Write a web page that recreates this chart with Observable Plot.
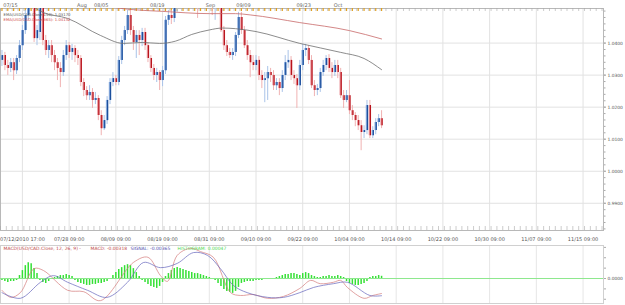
<!DOCTYPE html>
<html><head><meta charset="utf-8">
<script src="https://cdn.jsdelivr.net/npm/d3@7"></script>
<script src="https://cdn.jsdelivr.net/npm/@observablehq/plot@0.6"></script>
<style>
html,body{margin:0;padding:0;background:#fff;}
#wrap{position:relative;width:625px;height:305px;overflow:hidden;}
#main,#macd{position:absolute;left:0;}
#main{top:0}
#macd{top:243px}
svg{display:block}
</style></head><body>
<div id="wrap"><div id="main"></div><div id="macd"></div></div>
<script>
// ---- price candles (bar index 0..130) ----
const open = [1.0346,1.0361,1.0330,1.0321,1.0339,1.0314,1.0352,1.0392,1.0439,1.0486,1.0527,1.0558,1.0414,1.0433,1.0508,1.0408,1.0377,1.0392,1.0361,1.0339,
1.0321,1.0308,1.0361,1.0392,1.0371,1.0383,1.0361,1.0352,1.0277,1.0252,1.0236,1.0246,1.0221,1.0227,1.0174,1.0133,1.0158,1.0221,1.0277,1.0289,
1.0277,1.0346,1.0408,1.0439,1.0486,1.0439,1.0402,1.0424,1.0408,1.0433,1.0392,1.0352,1.0321,1.0299,1.0308,1.0283,1.0314,1.0471,1.0486,1.0477,
1.0508,1.0549,1.0580,1.0611,1.0596,1.0627,1.0602,1.0564,1.0539,1.0571,1.0596,1.0580,1.0549,1.0533,1.0549,1.0558,1.0439,1.0392,1.0371,1.0361,
1.0371,1.0424,1.0480,1.0439,1.0392,1.0361,1.0339,1.0330,1.0346,1.0299,1.0283,1.0289,1.0308,1.0299,1.0267,1.0277,1.0258,1.0299,1.0339,1.0346,
1.0299,1.0289,1.0267,1.0330,1.0377,1.0383,1.0346,1.0267,1.0252,1.0258,1.0308,1.0330,1.0352,1.0321,1.0308,1.0330,1.0308,1.0236,1.0221,1.0236,
1.0189,1.0174,1.0158,1.0142,1.0121,1.0127,1.0205,1.0111,1.0127,1.0152,1.0164];
const high = [1.0377,1.0371,1.0346,1.0352,1.0352,1.0361,1.0408,1.0455,1.0502,1.0549,1.0580,1.0571,1.0455,1.0521,1.0517,1.0424,1.0408,1.0408,1.0377,1.0352,
1.0339,1.0377,1.0408,1.0402,1.0396,1.0392,1.0377,1.0361,1.0289,1.0264,1.0267,1.0258,1.0246,1.0236,1.0189,1.0174,1.0233,1.0289,1.0308,1.0299,
1.0358,1.0421,1.0452,1.0502,1.0502,1.0452,1.0439,1.0439,1.0446,1.0446,1.0402,1.0361,1.0333,1.0321,1.0314,1.0327,1.0483,1.0502,1.0502,1.0527,
1.0571,1.0602,1.0633,1.0627,1.0652,1.0642,1.0621,1.0577,1.0589,1.0614,1.0608,1.0596,1.0564,1.0571,1.0580,1.0571,1.0452,1.0408,1.0383,1.0383,
1.0433,1.0496,1.0496,1.0452,1.0408,1.0377,1.0361,1.0361,1.0358,1.0314,1.0308,1.0327,1.0321,1.0314,1.0289,1.0289,1.0314,1.0361,1.0377,1.0358,
1.0314,1.0302,1.0346,1.0396,1.0396,1.0392,1.0361,1.0283,1.0271,1.0321,1.0346,1.0361,1.0364,1.0339,1.0346,1.0346,1.0321,1.0252,1.0252,1.0283,
1.0205,1.0183,1.0174,1.0158,1.0142,1.0221,1.0221,1.0139,1.0164,1.0177,1.0189];
const low = [1.0327,1.0314,1.0299,1.0308,1.0283,1.0302,1.0339,1.0377,1.0427,1.0471,1.0514,1.0402,1.0392,1.0408,1.0392,1.0361,1.0352,1.0339,1.0314,1.0283,
1.0261,1.0296,1.0346,1.0352,1.0346,1.0339,1.0330,1.0264,1.0233,1.0221,1.0221,1.0196,1.0208,1.0158,1.0111,1.0127,1.0146,1.0208,1.0264,1.0267,
1.0267,1.0333,1.0392,1.0427,1.0424,1.0377,1.0352,1.0361,1.0389,1.0377,1.0339,1.0308,1.0283,1.0277,1.0252,1.0264,1.0302,1.0455,1.0458,1.0464,
1.0496,1.0533,1.0564,1.0571,1.0577,1.0564,1.0549,1.0477,1.0521,1.0552,1.0558,1.0527,1.0486,1.0471,1.0521,1.0433,1.0377,1.0358,1.0352,1.0346,
1.0358,1.0414,1.0427,1.0383,1.0346,1.0292,1.0314,1.0314,1.0283,1.0258,1.0214,1.0221,1.0277,1.0252,1.0252,1.0236,1.0246,1.0283,1.0321,1.0283,
1.0271,1.0196,1.0252,1.0314,1.0358,1.0333,1.0258,1.0233,1.0236,1.0246,1.0296,1.0314,1.0308,1.0289,1.0296,1.0289,1.0227,1.0196,1.0214,1.0177,
1.0158,1.0139,1.0127,1.0064,1.0102,1.0114,1.0102,1.0102,1.0114,1.0139,1.0133];
const close = [1.0361,1.0330,1.0321,1.0339,1.0314,1.0352,1.0392,1.0439,1.0486,1.0527,1.0558,1.0414,1.0439,1.0508,1.0408,1.0377,1.0392,1.0361,1.0339,1.0321,
1.0308,1.0361,1.0392,1.0371,1.0383,1.0361,1.0352,1.0277,1.0252,1.0236,1.0246,1.0221,1.0227,1.0174,1.0133,1.0158,1.0221,1.0277,1.0289,1.0277,
1.0346,1.0408,1.0439,1.0486,1.0439,1.0402,1.0424,1.0408,1.0433,1.0392,1.0352,1.0321,1.0299,1.0308,1.0283,1.0314,1.0471,1.0486,1.0477,1.0508,
1.0549,1.0580,1.0611,1.0596,1.0627,1.0602,1.0564,1.0539,1.0571,1.0596,1.0580,1.0549,1.0533,1.0549,1.0558,1.0439,1.0392,1.0371,1.0361,1.0371,
1.0424,1.0480,1.0439,1.0392,1.0361,1.0339,1.0330,1.0346,1.0299,1.0283,1.0289,1.0308,1.0299,1.0267,1.0277,1.0258,1.0299,1.0339,1.0346,1.0299,
1.0289,1.0267,1.0330,1.0377,1.0383,1.0346,1.0267,1.0252,1.0258,1.0308,1.0330,1.0352,1.0321,1.0308,1.0330,1.0308,1.0236,1.0221,1.0236,1.0189,
1.0174,1.0158,1.0142,1.0121,1.0127,1.0205,1.0111,1.0127,1.0152,1.0164,1.0142];

// ---- EMA overlays (bar index, value) ----
const ema150Idx = [0, 8, 14, 22.5, 33.7, 41.6, 48, 54, 59.4, 65, 71, 75.5, 80, 87, 102, 116, 124, 130];
const ema150Val = [1.0580, 1.0530, 1.0496, 1.0477, 1.0424, 1.0399, 1.0402, 1.0399, 1.0406, 1.0427, 1.0441, 1.0447, 1.0445, 1.0436, 1.0399, 1.0371, 1.0352, 1.0317];
const ema365Idx = [0, 30, 44, 55, 71, 80, 85, 102, 119, 130];
const ema365Val = [1.0540, 1.0522, 1.0505, 1.0499, 1.0492, 1.0492, 1.0488, 1.0464, 1.0439, 1.0413];

// ---- MACD panel ----
const macdIdx = [0, 3, 6.3, 11, 14.2, 22.5, 28, 33.7, 45, 50, 54.3, 56.7, 60, 64.6, 68, 72.4, 78.3, 81.7, 86, 91, 96.4, 102, 105.7, 109, 113.5, 116, 118.3, 124, 127, 130];
const macdVal = [-0.0025, -0.0040, -0.0030, 0.0021, 0.0017, -0.0025, -0.0028, -0.0047, 0.0034, 0.0045, 0.0006, -0.0006, 0.0049, 0.0064, 0.0057, 0.0045, -0.0030, -0.0036, -0.0034, -0.0042, -0.0038, -0.0021, -0.0004, -0.0011, -0.0008, -0.0004, -0.0019, -0.0042, -0.0036, -0.00318];
const sigIdx = [0, 6.3, 13.2, 17.6, 22.5, 29.3, 36, 43, 48.5, 54.3, 60, 65.6, 70.4, 74.8, 79.3, 84, 91, 96.4, 102, 106.7, 113.5, 118.3, 126, 130];
const sigVal = [-0.0030, -0.0042, -0.0008, 0.0006, -0.0008, -0.0025, -0.0040, -0.0008, 0.0034, 0.0023, 0.0032, 0.0055, 0.0049, 0.0021, -0.0015, -0.0030, -0.0040, -0.0040, -0.0030, -0.0019, -0.0011, -0.0008, -0.0036, -0.00365];
const hist = [-0.00042,-0.00063,-0.00084,-0.00063,-0.00063,-0.00042,0.00063,0.00168,0.00273,0.00336,0.00315,0.0021,0.00105,-0.00042,-0.00084,-0.00105,-0.00063,-0.00021,0.00021,0.00042,
0.00063,0.00063,0.00084,0.00063,0.00042,-0.00042,-0.00084,-0.00105,-0.00126,-0.00147,-0.00147,-0.00126,-0.00126,-0.00105,-0.00105,-0.00084,-0.00063,-0.00021,0.00063,0.00126,
0.00189,0.00231,0.00273,0.00294,0.00273,0.0021,0.00126,0.00042,-0.00042,-0.00084,-0.00126,-0.00168,-0.00189,-0.0021,-0.00168,-0.00084,0.00042,0.00105,0.00168,0.0021,
0.00231,0.0021,0.00189,0.00168,0.00147,0.00126,0.00105,0.00105,0.00084,0.00063,0.00042,0.00021,0,-0.00042,-0.00105,-0.00168,-0.00231,-0.00273,-0.00294,-0.00315,
-0.00273,-0.00189,-0.00105,-0.00084,-0.00063,-0.00063,-0.00063,-0.00042,-0.00042,-0.00042,-0.00021,-0.00021,-0.00021,0,0.00021,0.00042,0.00063,0.00084,0.00084,0.00105,
0.00105,0.00084,0.00063,0.00105,0.00126,0.00105,0.00063,0.00042,0.00021,0.00021,0.00042,0.00042,0.00063,0.00042,0.00042,0.00063,0.00042,0.00021,-0.00063,-0.00105,
-0.00126,-0.00147,-0.00147,-0.00126,-0.00105,-0.00063,0.00021,0.00042,0.00042,0.00063,0.00047];

// ---- axis labels ----
const bottomTickIdx = [7, 23, 39, 55, 71, 87, 103, 119, 135, 151, 167, 183, 199];
const bottomLabels = ["07/12/2010 17:00","07/28 09:00","08/09 09:00","08/19 09:00","08/31 09:00","09/10 09:00","09/22 09:00","10/04 09:00","10/14 09:00","10/22 09:00","10/30 09:00","11/07 09:00","11/15 09:00"];
const topIdx = [2.9, 27.4, 34, 53.2, 71.4, 82.7, 103.3, 115.1];
const topLabels = ["07/15","Aug","08/05","08/19","Sep","09/09","09/23","Oct"];
const priceTicks = [0.99, 1.00, 1.01, 1.02, 1.03, 1.04];
const ema150Label = "EMA(USD/CAD.Close,150): 1.03170";
const ema365Label = "EMA(USD/CAD.Close,365): 1.04132";
const macdLegend = ["MACD(USD/CAD.Close, 12, 26, 9) -", "MACD: -0.00318", "SIGNAL: -0.00365", "HISTOGRAM: 0.00047"];

const candles = open.map((o, i) => ({i, o, h: high[i], l: low[i], c: close[i]}));
const up = candles.filter(d => d.c >= d.o);
const dn = candles.filter(d => d.c < d.o);
const ema150 = ema150Idx.map((x, k) => ({x, v: ema150Val[k]}));
const ema365 = ema365Idx.map((x, k) => ({x, v: ema365Val[k]}));
const macd = macdIdx.map((x, k) => ({x, v: macdVal[k]}));
const sig = sigIdx.map((x, k) => ({x, v: sigVal[k]}));
const histData = hist.map((v, i) => ({i, v}));
const tickLab = new Map(bottomTickIdx.map((d, k) => [d, bottomLabels[k]]));
const stripTicks = d3.range(-0.5, 206, 2);
const markTicks = d3.range(0, 131, 2);
const minorPrice = d3.range(0.982, 1.0505, 0.002);

const FONT = "DejaVu Sans, Verdana, sans-serif";
const XD = [-0.5, 206];

const main = Plot.plot({
  width: 625, height: 245,
  marginLeft: 0, marginRight: 22, marginTop: 8, marginBottom: 15,
  x: {domain: XD},
  y: {domain: [0.9815, 1.0508]},
  style: {fontFamily: FONT, fontSize: "5px", color: "#555", background: "#fff"},
  marks: [
    Plot.gridX(bottomTickIdx, {stroke: "#e2e2e2", strokeOpacity: 1}),
    Plot.gridY(priceTicks, {stroke: "#e2e2e2", strokeOpacity: 1}),
    Plot.frame({stroke: "#b8b8b8"}),
    Plot.ruleX(stripTicks, {x: d => d, insetBottom: 219, stroke: "#aaa", strokeWidth: 0.6}),
    Plot.ruleX(markTicks, {x: d => d, insetBottom: 219, stroke: "#e0a020", strokeWidth: 1.2}),
    Plot.ruleX(stripTicks, {x: d => d, insetTop: 218, stroke: "#aaa", strokeWidth: 0.6}),
    Plot.ruleX(up, {x: "i", y1: "l", y2: "h", stroke: "#a9c3e8", strokeWidth: 1, clip: true}),
    Plot.ruleX(dn, {x: "i", y1: "l", y2: "h", stroke: "#f0b2b2", strokeWidth: 1, clip: true}),
    Plot.ruleX(up, {x: "i", y1: "o", y2: "c", stroke: "#86a9dc", strokeWidth: 2.4, clip: true}),
    Plot.ruleX(dn, {x: "i", y1: "o", y2: "c", stroke: "#eb9aa0", strokeWidth: 2.4, clip: true}),
    Plot.ruleX(up, {x: "i", y1: "o", y2: "c", stroke: "#1c4f9c", strokeWidth: 1.2, dx: 0.5, clip: true}),
    Plot.ruleX(dn, {x: "i", y1: "o", y2: "c", stroke: "#b8141c", strokeWidth: 1.2, dx: 0.5, clip: true}),
    Plot.line(ema365, {x: "x", y: "v", stroke: "#c86868", strokeWidth: 0.8, curve: "monotone-x", clip: true}),
    Plot.line(ema150, {x: "x", y: "v", stroke: "#6e6e6e", strokeWidth: 0.8, curve: "monotone-x", clip: true}),
    Plot.axisY(priceTicks, {anchor: "right", tickSize: 2, tickPadding: 2, tickFormat: d3.format(".4f"), fill: "#555", stroke: "#aaa", fontSize: 4.4, label: null}),
    Plot.axisY(minorPrice, {anchor: "right", tickSize: 1.5, tickFormat: () => "", stroke: "#aaa", label: null}),
    Plot.axisX(bottomTickIdx, {anchor: "bottom", tickSize: 0, tickPadding: 7, tickFormat: d => tickLab.get(d), fill: "#555", fontSize: 5, label: null}),
    Plot.text(topLabels, {x: (d, k) => topIdx[k], text: d => d, frameAnchor: "top", lineAnchor: "bottom", dy: -2, fill: "#666", fontSize: 5}),
    Plot.text([ema150Label], {frameAnchor: "top-left", textAnchor: "start", lineAnchor: "top", dx: 3, dy: 4.5, fill: "#555", fontSize: 3.8}),
    Plot.text([ema365Label], {frameAnchor: "top-left", textAnchor: "start", lineAnchor: "top", dx: 3, dy: 10, fill: "#d04848", fontSize: 3.8})
  ]
});
document.getElementById("main").appendChild(main);

const macdPlot = Plot.plot({
  width: 625, height: 62,
  marginLeft: 0, marginRight: 22, marginTop: 2, marginBottom: 2,
  x: {domain: XD, axis: null},
  y: {domain: [-0.0053, 0.0070]},
  style: {fontFamily: FONT, fontSize: "5px", color: "#555", background: "#fff"},
  marks: [
    Plot.gridX(bottomTickIdx, {stroke: "#e6e6e6", strokeOpacity: 1}),
    Plot.frame({stroke: "#d0d0d0"}),
    Plot.ruleX(histData, {x: "i", y1: 0, y2: "v", stroke: "#35e035", strokeWidth: 1.5}),
    Plot.ruleY([0], {stroke: "#8ee88e", strokeWidth: 1}),
    Plot.line(macd, {x: "x", y: "v", stroke: "#d47a7a", strokeWidth: 0.7, curve: "catmull-rom"}),
    Plot.line(sig, {x: "x", y: "v", stroke: "#6464bc", strokeWidth: 0.7, curve: "catmull-rom"}),
    Plot.axisY([-0.0044, -0.0022, 0, 0.0022, 0.0044, 0.0066], {anchor: "right", tickSize: 2, tickPadding: 2, tickFormat: d => d === 0 ? "0.0000" : "", fill: "#555", stroke: "#aaa", fontSize: 4.4, label: null}),
    Plot.text([macdLegend[0]], {frameAnchor: "top-left", textAnchor: "start", lineAnchor: "top", dx: 3, dy: 1.5, fill: "#c04848", fontSize: 4.5}),
    Plot.text([macdLegend[1]], {frameAnchor: "top-left", textAnchor: "start", lineAnchor: "top", dx: 90, dy: 1.5, fill: "#c04848", fontSize: 4.5}),
    Plot.text([macdLegend[2]], {frameAnchor: "top-left", textAnchor: "start", lineAnchor: "top", dx: 130, dy: 1.5, fill: "#5050b0", fontSize: 4.5}),
    Plot.text([macdLegend[3]], {frameAnchor: "top-left", textAnchor: "start", lineAnchor: "top", dx: 177, dy: 1.5, fill: "#50d850", fontSize: 4.5})
  ]
});
document.getElementById("macd").appendChild(macdPlot);
</script>
</body></html>
